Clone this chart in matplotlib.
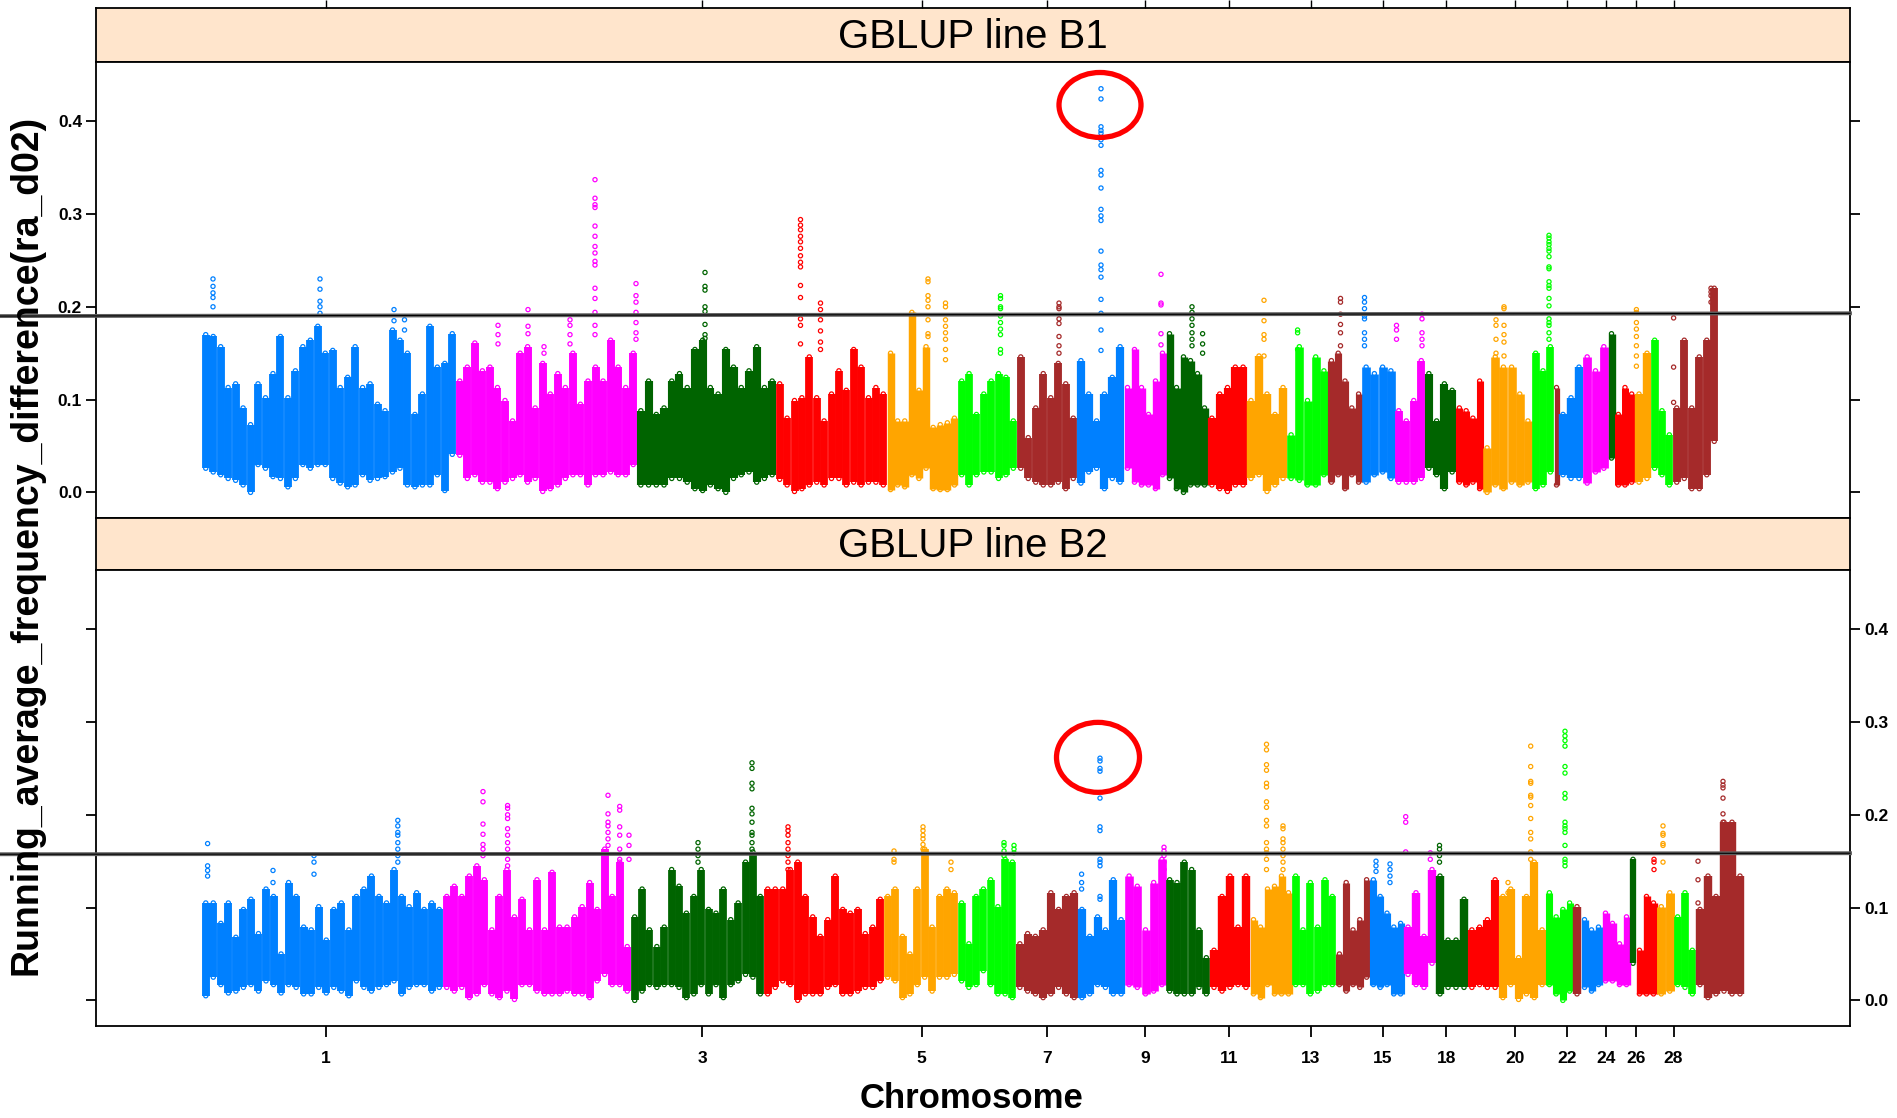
import numpy as np
import matplotlib.pyplot as plt
from matplotlib import font_manager
from matplotlib.patches import Ellipse

# chromosome order along the genome axis (no 16; last one unlabeled)
CHROMS = ['1', '2', '3', '4', '5', '6', '7', '8', '9', '10', '11', '12', '13', '14',
          '15', '17', '18', '19', '20', '21', '22', '23', '24', '25', '26', '27', '28', 'Z']
COLORS = ['#0080FF', '#FF00FF', '#006400', '#FF0000', '#FFA500', '#00FF00', '#A52A2A']

# cumulative chromosome edges on the plotting axis, one set per panel
B1_EDGES = [106, 360, 541, 680, 791, 862, 921, 981, 1028, 1070, 1112, 1151, 1191, 1232,
            1266, 1299, 1329, 1360, 1387, 1436, 1458, 1463, 1487, 1512, 1519, 1539, 1555,
            1577, 1622]
B2_EDGES = [106, 347, 535, 668, 788, 862, 920, 982, 1029, 1070, 1114, 1154, 1196, 1240,
            1274, 1308, 1340, 1372, 1403, 1450, 1477, 1485, 1506, 1534, 1540, 1561, 1578,
            1600, 1648]

# upper / lower envelope of the running average, read along each chromosome
B1_HI = [
    [0.170, 0.168, 0.157, 0.113, 0.117, 0.091, 0.073, 0.117, 0.102, 0.128, 0.168, 0.102,
     0.131, 0.157, 0.164, 0.179, 0.150, 0.153, 0.113, 0.124, 0.157, 0.113, 0.117, 0.095,
     0.088, 0.175, 0.164, 0.150, 0.084, 0.106, 0.179, 0.135, 0.139, 0.171],
    [0.120, 0.135, 0.161, 0.131, 0.135, 0.113, 0.099, 0.077, 0.150, 0.157, 0.091, 0.139,
     0.106, 0.128, 0.113, 0.150, 0.095, 0.120, 0.135, 0.120, 0.164, 0.135, 0.113, 0.150],
    [0.088, 0.120, 0.084, 0.091, 0.120, 0.128, 0.113, 0.154, 0.164, 0.113, 0.106, 0.154,
     0.135, 0.113, 0.131, 0.157, 0.113, 0.120],
    [0.117, 0.080, 0.099, 0.102, 0.146, 0.102, 0.077, 0.106, 0.131, 0.110, 0.154, 0.135,
     0.102, 0.113, 0.106],
    [0.150, 0.077, 0.077, 0.194, 0.110, 0.157, 0.070, 0.073, 0.075, 0.080],
    [0.120, 0.128, 0.084, 0.106, 0.120, 0.128, 0.124, 0.077],
    [0.146, 0.059, 0.091, 0.128, 0.102, 0.139, 0.117, 0.080],
    [0.142, 0.106, 0.077, 0.106, 0.124, 0.157],
    [0.113, 0.154, 0.113, 0.084, 0.120, 0.150],
    [0.171, 0.113, 0.146, 0.142, 0.128, 0.091],
    [0.080, 0.106, 0.113, 0.135, 0.135],
    [0.099, 0.147, 0.106, 0.084, 0.113],
    [0.062, 0.157, 0.099, 0.146, 0.131],
    [0.142, 0.150, 0.120, 0.091, 0.106],
    [0.135, 0.128, 0.135, 0.131],
    [0.088, 0.077, 0.099, 0.142],
    [0.128, 0.077, 0.117, 0.110],
    [0.091, 0.088, 0.080, 0.120],
    [0.048, 0.146, 0.135, 0.135, 0.106, 0.077],
    [0.150, 0.131, 0.157],
    [0.113],
    [0.084, 0.102, 0.135],
    [0.146, 0.131, 0.157],
    [0.171],
    [0.084, 0.113, 0.106],
    [0.106, 0.150],
    [0.164, 0.088, 0.062],
    [0.091, 0.164, 0.091, 0.146, 0.164, 0.220],
]
B1_LO = [
    [0.026, 0.022, 0.019, 0.015, 0.013, 0.008, 0.000, 0.030, 0.026, 0.017, 0.015, 0.006,
     0.015, 0.030, 0.026, 0.030, 0.030, 0.015, 0.010, 0.006, 0.008, 0.019, 0.013, 0.015,
     0.017, 0.022, 0.026, 0.008, 0.006, 0.008, 0.008, 0.019, 0.002, 0.041],
    [0.040, 0.015, 0.019, 0.011, 0.011, 0.004, 0.011, 0.015, 0.019, 0.011, 0.015, 0.001,
     0.004, 0.008, 0.015, 0.019, 0.019, 0.008, 0.019, 0.019, 0.022, 0.019, 0.019, 0.030],
    [0.008, 0.008, 0.008, 0.008, 0.015, 0.015, 0.011, 0.004, 0.002, 0.008, 0.004, 0.000,
     0.015, 0.019, 0.022, 0.011, 0.015, 0.019],
    [0.014, 0.008, 0.001, 0.004, 0.008, 0.011, 0.008, 0.015, 0.015, 0.008, 0.011, 0.008,
     0.011, 0.011, 0.008],
    [0.003, 0.008, 0.006, 0.019, 0.015, 0.026, 0.004, 0.003, 0.003, 0.008],
    [0.019, 0.008, 0.019, 0.022, 0.022, 0.015, 0.019, 0.026],
    [0.026, 0.015, 0.011, 0.008, 0.008, 0.011, 0.004, 0.015],
    [0.010, 0.022, 0.026, 0.004, 0.015, 0.011],
    [0.026, 0.011, 0.008, 0.008, 0.004, 0.019],
    [0.015, 0.004, 0.000, 0.008, 0.008, 0.008],
    [0.008, 0.004, 0.001, 0.008, 0.008],
    [0.015, 0.019, 0.001, 0.008, 0.015],
    [0.015, 0.013, 0.008, 0.008, 0.019],
    [0.011, 0.019, 0.004, 0.019, 0.011],
    [0.011, 0.019, 0.022, 0.015],
    [0.011, 0.011, 0.011, 0.015],
    [0.026, 0.019, 0.004, 0.022],
    [0.011, 0.008, 0.011, 0.004],
    [0.000, 0.008, 0.004, 0.011, 0.008, 0.011],
    [0.004, 0.008, 0.022],
    [0.008],
    [0.019, 0.015, 0.015],
    [0.010, 0.022, 0.026],
    [0.037],
    [0.008, 0.008, 0.011],
    [0.011, 0.015],
    [0.026, 0.019, 0.008],
    [0.011, 0.015, 0.004, 0.004, 0.019, 0.055],
]
B2_HI = [
    [0.105, 0.105, 0.083, 0.105, 0.068, 0.098, 0.109, 0.072, 0.120, 0.112, 0.050, 0.127,
     0.112, 0.079, 0.076, 0.101, 0.065, 0.098, 0.105, 0.076, 0.112, 0.120, 0.134, 0.112,
     0.105, 0.141, 0.112, 0.101, 0.116, 0.098, 0.105, 0.098],
    [0.112, 0.123, 0.112, 0.134, 0.145, 0.130, 0.076, 0.112, 0.141, 0.090, 0.109, 0.076,
     0.130, 0.076, 0.138, 0.079, 0.079, 0.090, 0.101, 0.127, 0.098, 0.163, 0.112, 0.149,
     0.058],
    [0.090, 0.120, 0.076, 0.058, 0.079, 0.141, 0.123, 0.094, 0.112, 0.141, 0.098, 0.094,
     0.120, 0.087, 0.105, 0.149, 0.160, 0.112],
    [0.120, 0.120, 0.120, 0.141, 0.149, 0.112, 0.090, 0.069, 0.087, 0.134, 0.098, 0.094,
     0.098, 0.072, 0.079, 0.109],
    [0.112, 0.120, 0.069, 0.050, 0.120, 0.163, 0.079, 0.112, 0.120, 0.116],
    [0.105, 0.061, 0.112, 0.120, 0.130, 0.101, 0.152, 0.149],
    [0.061, 0.072, 0.069, 0.076, 0.116, 0.098, 0.112, 0.116],
    [0.098, 0.069, 0.090, 0.076, 0.130, 0.087],
    [0.134, 0.123, 0.076, 0.127, 0.152],
    [0.130, 0.127, 0.149, 0.141, 0.076, 0.046],
    [0.054, 0.112, 0.134, 0.079, 0.134],
    [0.087, 0.079, 0.120, 0.123, 0.134, 0.116],
    [0.134, 0.076, 0.127, 0.079, 0.130, 0.112],
    [0.050, 0.127, 0.076, 0.087, 0.130],
    [0.130, 0.112, 0.094, 0.079, 0.083],
    [0.079, 0.116, 0.069, 0.141],
    [0.134, 0.065, 0.065, 0.109],
    [0.076, 0.079, 0.087, 0.130],
    [0.112, 0.120, 0.046, 0.112, 0.149, 0.076],
    [0.116, 0.090, 0.098, 0.105],
    [0.101],
    [0.087, 0.076, 0.079],
    [0.094, 0.083, 0.061, 0.090],
    [0.152],
    [0.054, 0.112, 0.105],
    [0.101, 0.116],
    [0.090, 0.116, 0.054],
    [0.098, 0.134, 0.112, 0.192, 0.192, 0.134],
]
B2_LO = [
    [0.005, 0.025, 0.017, 0.008, 0.010, 0.014, 0.017, 0.010, 0.021, 0.017, 0.008, 0.017,
     0.014, 0.007, 0.007, 0.014, 0.008, 0.014, 0.010, 0.005, 0.021, 0.014, 0.010, 0.014,
     0.017, 0.021, 0.007, 0.014, 0.017, 0.017, 0.010, 0.014],
    [0.014, 0.010, 0.014, 0.003, 0.007, 0.017, 0.007, 0.003, 0.010, 0.001, 0.017, 0.017,
     0.010, 0.007, 0.007, 0.007, 0.010, 0.007, 0.007, 0.003, 0.021, 0.028, 0.017, 0.017,
     0.010],
    [0.000, 0.010, 0.017, 0.014, 0.017, 0.017, 0.014, 0.003, 0.007, 0.017, 0.007, 0.017,
     0.003, 0.017, 0.021, 0.028, 0.025, 0.007],
    [0.007, 0.014, 0.021, 0.017, 0.000, 0.007, 0.007, 0.007, 0.014, 0.017, 0.007, 0.007,
     0.010, 0.014, 0.014, 0.021],
    [0.025, 0.021, 0.003, 0.007, 0.017, 0.025, 0.010, 0.025, 0.025, 0.028],
    [0.021, 0.014, 0.017, 0.032, 0.017, 0.007, 0.007, 0.003],
    [0.014, 0.010, 0.007, 0.003, 0.007, 0.014, 0.007, 0.003],
    [0.003, 0.007, 0.017, 0.014, 0.007, 0.007],
    [0.017, 0.014, 0.007, 0.010, 0.017],
    [0.010, 0.007, 0.007, 0.007, 0.014, 0.007],
    [0.014, 0.010, 0.014, 0.017, 0.014],
    [0.007, 0.003, 0.017, 0.007, 0.007, 0.007],
    [0.017, 0.017, 0.007, 0.010, 0.017, 0.017],
    [0.017, 0.010, 0.017, 0.014, 0.025],
    [0.017, 0.014, 0.017, 0.007, 0.007],
    [0.028, 0.017, 0.014, 0.040],
    [0.007, 0.014, 0.014, 0.014],
    [0.014, 0.017, 0.014, 0.014],
    [0.003, 0.017, 0.001, 0.007, 0.003, 0.017],
    [0.017, 0.007, 0.000, 0.010],
    [0.007],
    [0.014, 0.010, 0.017],
    [0.021, 0.021, 0.017, 0.017],
    [0.040],
    [0.007, 0.007, 0.007],
    [0.007, 0.010],
    [0.017, 0.014, 0.007],
    [0.017, 0.003, 0.007, 0.010, 0.007, 0.007],
]

# isolated points standing above the dense bands (position, values)
B1_SPIKE_X = [117, 224, 298, 308.5, 402, 432, 448, 474, 499, 540, 609, 704.5, 724.5, 832,
              849.5, 904.5, 963, 1005, 1065, 1096, 1106.6, 1168, 1201.6, 1244.5, 1268.5,
              1300.5, 1326, 1400, 1408, 1453, 1540.4, 1577.6, 1615]
B1_SPIKE_Y = [
    [0.230, 0.222, 0.215, 0.210, 0.200],
    [0.230, 0.219, 0.206, 0.200, 0.193],
    [0.197, 0.185],
    [0.186, 0.175],
    [0.180, 0.170, 0.160],
    [0.197, 0.179, 0.171],
    [0.157, 0.150],
    [0.186, 0.180, 0.170, 0.160],
    [0.337, 0.317, 0.310, 0.307, 0.287, 0.276, 0.265, 0.258, 0.249, 0.245, 0.220, 0.209,
     0.194, 0.180, 0.170],
    [0.225, 0.212, 0.205, 0.194, 0.183, 0.172, 0.165],
    [0.237, 0.222, 0.218, 0.200, 0.195, 0.181, 0.170, 0.166],
    [0.294, 0.288, 0.283, 0.276, 0.270, 0.263, 0.255, 0.248, 0.243, 0.223, 0.210, 0.187,
     0.180, 0.160],
    [0.204, 0.197, 0.186, 0.174, 0.162, 0.154],
    [0.230, 0.227, 0.212, 0.207, 0.200, 0.186, 0.171, 0.168],
    [0.204, 0.200, 0.186, 0.179, 0.172, 0.165, 0.154, 0.143],
    [0.212, 0.209, 0.200, 0.198, 0.190, 0.183, 0.176, 0.170, 0.154, 0.150],
    [0.204, 0.200, 0.198, 0.187, 0.182, 0.168, 0.158, 0.150],
    [0.435, 0.424, 0.394, 0.390, 0.387, 0.380, 0.374, 0.347, 0.342, 0.328, 0.305, 0.298,
     0.293, 0.260, 0.245, 0.240, 0.232, 0.208, 0.193, 0.175, 0.153],
    [0.235, 0.204, 0.202, 0.171, 0.159],
    [0.200, 0.194, 0.187, 0.180, 0.172, 0.165, 0.158],
    [0.171, 0.160, 0.150],
    [0.207, 0.185, 0.170, 0.165, 0.147],
    [0.175, 0.172, 0.154],
    [0.209, 0.205, 0.192, 0.181, 0.172, 0.158],
    [0.210, 0.205, 0.198, 0.190, 0.187, 0.172, 0.165, 0.158],
    [0.180, 0.175, 0.165],
    [0.192, 0.187, 0.172, 0.165, 0.158],
    [0.186, 0.180, 0.165, 0.150],
    [0.200, 0.198, 0.180, 0.170, 0.162, 0.147],
    [0.277, 0.274, 0.270, 0.267, 0.263, 0.260, 0.254, 0.243, 0.241, 0.227, 0.223, 0.220,
     0.209, 0.201, 0.187, 0.183, 0.180, 0.172, 0.165],
    [0.197, 0.194, 0.183, 0.176, 0.168, 0.158, 0.147, 0.136],
    [0.188, 0.135, 0.097],
    [0.220, 0.216, 0.212, 0.205],
]
B2_SPIKE_X = [111.6, 177, 218, 301.8, 387, 411.6, 512, 523.7, 533, 602, 656, 692, 798, 827,
              855, 908, 918, 1004, 985.6, 1068, 1170.5, 1187, 1280, 1294, 1309.7, 1334.3,
              1343.5, 1434.7, 1412, 1469, 1558, 1567, 1627, 1602]
B2_SPIKE_Y = [
    [0.169, 0.145, 0.140, 0.134],
    [0.140, 0.127],
    [0.156, 0.149, 0.136],
    [0.194, 0.188, 0.181, 0.178, 0.170, 0.163, 0.156, 0.149],
    [0.225, 0.214, 0.190, 0.179, 0.168, 0.163, 0.156],
    [0.210, 0.207, 0.200, 0.196, 0.185, 0.178, 0.170, 0.163, 0.152, 0.145],
    [0.221, 0.201, 0.192, 0.188, 0.181, 0.174, 0.167],
    [0.209, 0.205, 0.187, 0.178, 0.163, 0.152],
    [0.178, 0.167, 0.152],
    [0.170, 0.163, 0.156, 0.149],
    [0.256, 0.250, 0.234, 0.228, 0.207, 0.201, 0.192, 0.181, 0.178, 0.170, 0.163],
    [0.187, 0.183, 0.178, 0.170, 0.163, 0.156, 0.149, 0.141],
    [0.161, 0.152, 0.149],
    [0.187, 0.183, 0.178, 0.174, 0.168, 0.163],
    [0.149, 0.141],
    [0.170, 0.167, 0.161, 0.156],
    [0.167, 0.163, 0.159],
    [0.261, 0.258, 0.250, 0.247, 0.218, 0.187, 0.183, 0.152, 0.149, 0.145, 0.112, 0.109],
    [0.136, 0.127, 0.120],
    [0.165, 0.161, 0.156, 0.149, 0.141],
    [0.276, 0.270, 0.254, 0.248, 0.234, 0.230, 0.214, 0.208, 0.194, 0.188, 0.170, 0.163,
     0.159, 0.152, 0.141],
    [0.188, 0.185, 0.174, 0.170, 0.163, 0.156, 0.149, 0.141],
    [0.150, 0.145, 0.139],
    [0.147, 0.141, 0.134, 0.127],
    [0.198, 0.192, 0.160],
    [0.159, 0.152],
    [0.167, 0.163, 0.156, 0.149],
    [0.274, 0.252, 0.236, 0.234, 0.221, 0.219, 0.210, 0.196, 0.181, 0.174, 0.160, 0.152],
    [0.127, 0.116],
    [0.290, 0.285, 0.280, 0.274, 0.252, 0.245, 0.223, 0.218, 0.192, 0.188, 0.185, 0.181,
     0.167, 0.152, 0.149, 0.145],
    [0.152, 0.149, 0.141],
    [0.188, 0.180, 0.178, 0.169, 0.167, 0.149],
    [0.236, 0.232, 0.229, 0.218, 0.201, 0.192],
    [0.150, 0.130, 0.105],
]

# significance thresholds (value at left edge, value at right edge)
THRESH_B1 = [0.190, 0.193]
THRESH_B2 = [0.1575, 0.1586]
# circled chr8 peaks: centre x, centre y, width, height
CIRCLE_B1 = [1004, 0.4175, 82, 0.070]
CIRCLE_B2 = [1002, 0.2619, 83, 0.0754]

YTICKS = [0.0, 0.1, 0.2, 0.3, 0.4]
YLIM = (-0.0276, 0.4638)
XLIM = (0, 1754)

installed = {f.name for f in font_manager.fontManager.ttflist}
if 'Liberation Sans Narrow' in installed:
    NARROW, STRIP_FS, TICK_FS = 'Liberation Sans Narrow', 34, 13.5
else:
    NARROW, STRIP_FS, TICK_FS = 'Liberation Sans', 29, 12.5
plt.rcParams['font.family'] = ['Liberation Sans', 'DejaVu Sans']

W, H = 1897, 1118
fig = plt.figure(figsize=(W / 100, H / 100), dpi=100)


def box(x0, y0, x1, y1):
    return [x0 / W, 1 - y1 / H, (x1 - x0) / W, (y1 - y0) / H]


s1 = fig.add_axes(box(96, 8, 1850, 62))
ax1 = fig.add_axes(box(96, 62, 1850, 518))
s2 = fig.add_axes(box(96, 518, 1850, 570))
ax2 = fig.add_axes(box(96, 570, 1850, 1026))


def draw_panel(ax, edges, hi, lo, spx, spy):
    for i in range(len(hi)):
        col = COLORS[i % len(COLORS)]
        n = len(hi[i])
        seg = (edges[i + 1] - edges[i]) / n
        xs = edges[i] + seg * (np.arange(n) + 0.5)
        ax.vlines(xs, lo[i], hi[i], colors=col, lw=seg * 0.72 * 1.05)
        ax.scatter(np.r_[xs, xs], np.r_[hi[i], lo[i]], s=9, facecolors='none',
                   edgecolors=col, linewidths=0.9)
    for x, ys in zip(spx, spy):
        i = np.searchsorted(edges, x, side='right') - 1
        ax.scatter([x] * len(ys), ys, s=9, facecolors='none',
                   edgecolors=COLORS[i % len(COLORS)], linewidths=0.9)


draw_panel(ax1, B1_EDGES, B1_HI, B1_LO, B1_SPIKE_X, B1_SPIKE_Y)
draw_panel(ax2, B2_EDGES, B2_HI, B2_LO, B2_SPIKE_X, B2_SPIKE_Y)

# chromosome ticks: midpoints averaged over both panels, every other chromosome labelled
mid1 = (np.array(B1_EDGES[:-1]) + np.array(B1_EDGES[1:])) / 2
mid2 = (np.array(B2_EDGES[:-1]) + np.array(B2_EDGES[1:])) / 2
mids = (mid1 + mid2) / 2
tick_idx = list(range(0, len(CHROMS) - 1, 2))
tick_pos = mids[tick_idx]
tick_lab = [CHROMS[i] for i in tick_idx]

for ax, th, circ in [(ax1, THRESH_B1, CIRCLE_B1), (ax2, THRESH_B2, CIRCLE_B2)]:
    ax.set_xlim(*XLIM)
    ax.set_ylim(*YLIM)
    ax.plot([-96, XLIM[1]], th, color='#606060', lw=2.8, clip_on=False, zorder=5)
    ax.plot([-96, XLIM[1]], th, color='black', lw=0.8, clip_on=False, zorder=6)
    ax.add_patch(Ellipse((circ[0], circ[1]), circ[2], circ[3], fill=False,
                         edgecolor='#FF0000', lw=3.8, zorder=7))
    ax.set_yticks(YTICKS)
    ax.set_yticklabels(['%.1f' % v for v in YTICKS])
    ax.tick_params(axis='y', direction='out', length=7, width=1.3, left=True, right=True,
                   labelsize=TICK_FS, pad=3)
    for sp in ax.spines.values():
        sp.set_linewidth(1.3)

ax1.tick_params(axis='y', labelleft=True, labelright=False)
ax1.set_xticks([])
ax2.tick_params(axis='y', labelleft=False, labelright=True)
ax2.set_xticks(tick_pos)
ax2.set_xticklabels(tick_lab)
ax2.tick_params(axis='x', direction='out', length=8, width=1.3, labelsize=TICK_FS, pad=10)
for lab in ax1.get_yticklabels() + ax2.get_yticklabels() + ax2.get_xticklabels():
    lab.set_fontfamily([NARROW, 'DejaVu Sans'])
    lab.set_fontweight('bold')

for s, title in [(s1, 'GBLUP line B1'), (s2, 'GBLUP line B2')]:
    s.set_facecolor('#FFE5CC')
    s.set_xlim(*XLIM)
    s.set_ylim(0, 1)
    s.set_yticks([])
    s.set_xticks([])
    for sp in s.spines.values():
        sp.set_linewidth(1.3)
    s.text(0.5, 0.46, title, transform=s.transAxes, ha='center', va='center',
           fontsize=STRIP_FS, family=[NARROW, 'DejaVu Sans'])

s1.set_xticks(tick_pos)
s1.tick_params(axis='x', top=True, bottom=False, labeltop=False, labelbottom=False,
               direction='out', length=6, width=1.0)

fig.text(0.0142, 0.513, 'Running_average_frequency_difference(ra_d02)', rotation=90,
         ha='center', va='center', fontsize=27, fontweight='bold')
fig.text(0.512, 0.017, 'Chromosome', ha='center', va='center', fontsize=25,
         fontweight='bold')

fig.savefig('out.png', dpi=100)
